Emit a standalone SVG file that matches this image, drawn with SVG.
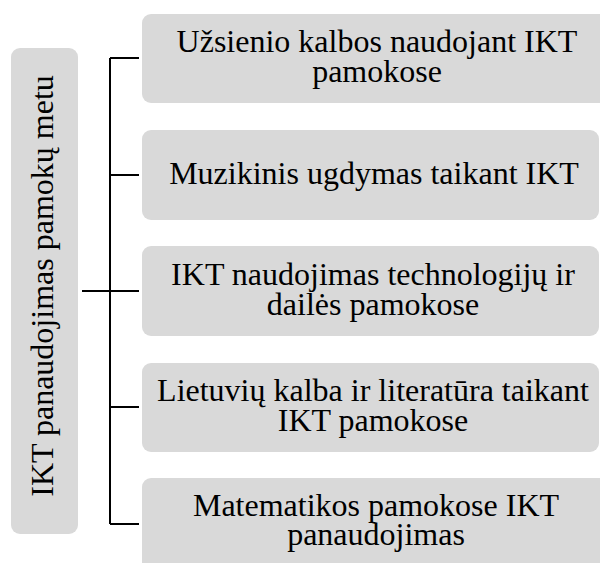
<svg xmlns="http://www.w3.org/2000/svg" width="600" height="563" viewBox="0 0 600 563">
  <style>
    .box { fill: #d9d9d9; }
    text { font-size: 32px; fill: #000; text-anchor: middle; }
    .wire { stroke: #000; stroke-width: 2; fill: none; }
  </style>
  <rect width="600" height="563" fill="#fff"/>

  <g id="root">
    <rect class="box" x="11" y="48" width="67" height="486" rx="9"/>
    <text font-family="Liberation Serif, serif" transform="translate(53,286) rotate(-90)">IKT panaudojimas pamokų metu</text>
  </g>

  <g id="connectors">
    <path class="wire" d="M110,58 V524 M82,291 H110 M110,58 H139 M110,175 H139 M110,291 H139 M110,407 H139 M110,524 H139"/>
  </g>

  <g id="n1" font-family="Liberation Serif, serif">
    <rect class="box" x="142" y="14" width="466" height="89" rx="9"/>
    <text x="377" y="52">Užsienio kalbos naudojant IKT</text>
    <text x="377" y="82">pamokose</text>
  </g>

  <g id="n2" font-family="Liberation Serif, serif">
    <rect class="box" x="142" y="130" width="457" height="90" rx="9"/>
    <text x="374" y="184">Muzikinis ugdymas taikant IKT</text>
  </g>

  <g id="n3" font-family="Liberation Serif, serif">
    <rect class="box" x="142" y="246" width="457" height="90" rx="9"/>
    <text x="373" y="285">IKT naudojimas technologijų ir</text>
    <text x="373" y="315">dailės pamokose</text>
  </g>

  <g id="n4" font-family="Liberation Serif, serif">
    <rect class="box" x="142" y="363" width="457" height="89" rx="9"/>
    <text x="373" y="401">Lietuvių kalba ir literatūra taikant</text>
    <text x="373" y="431">IKT pamokose</text>
  </g>

  <g id="n5" font-family="Liberation Serif, serif">
    <rect class="box" x="142" y="478" width="466" height="95" rx="9"/>
    <text x="376" y="516">Matematikos pamokose IKT</text>
    <text x="376" y="545">panaudojimas</text>
  </g>
</svg>
